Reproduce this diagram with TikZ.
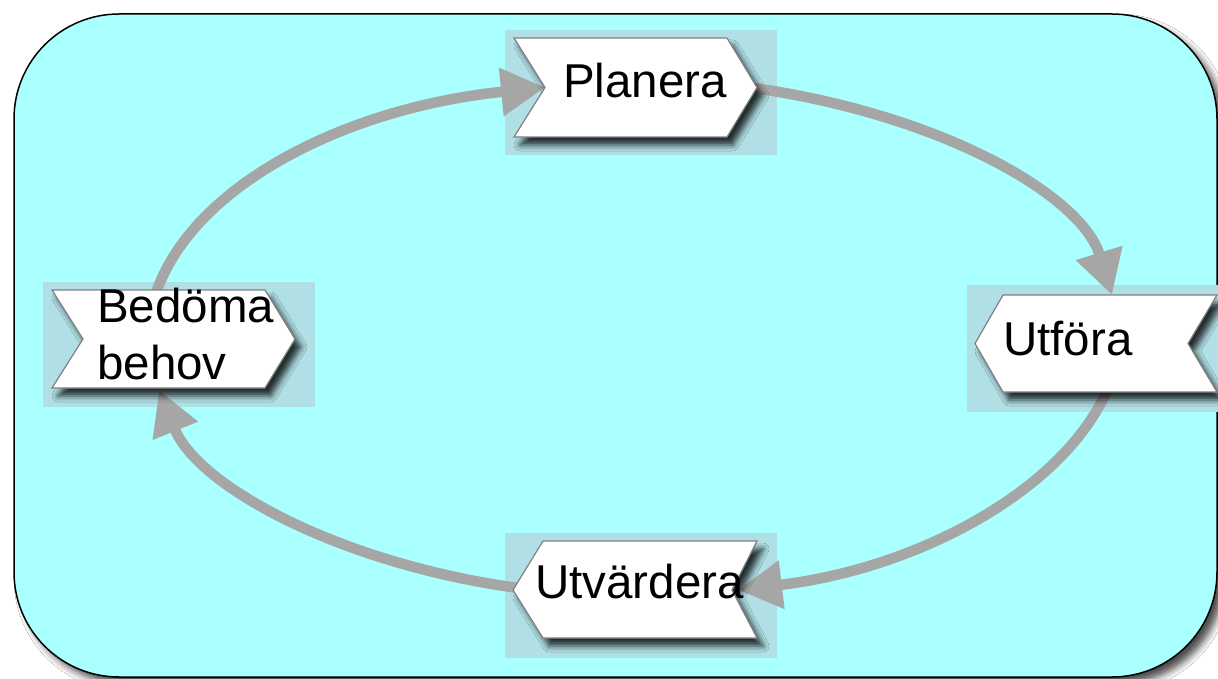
\documentclass[tikz,border=0pt]{standalone}
\usepackage{fontspec}
\setmainfont{Liberation Sans}
\usetikzlibrary{arrows.meta,shadows.blur}
\definecolor{panel}{RGB}{170,255,255}
\definecolor{plate}{RGB}{176,224,230}
\definecolor{flow}{RGB}{166,166,166}
\definecolor{rim}{RGB}{128,128,128}
\tikzset{
  panelbox/.style={fill=panel, draw=black, line width=1.5pt, rounded corners=105pt,
    blur shadow={shadow xshift=7pt, shadow yshift=-7pt, shadow blur radius=7pt, shadow opacity=70}},
  platebox/.style={fill=plate, draw=none},
  chev/.style={fill=white, draw=rim, line width=1.2pt, line join=miter,
    blur shadow={shadow xshift=6pt, shadow yshift=-8pt, shadow blur radius=6pt, shadow opacity=80}},
  flowline/.style={draw=flow, line width=10.5pt, -{Triangle[length=44pt,width=46pt]}},
  lbltext/.style={inner sep=0pt, font=\fontsize{47.5}{57}\selectfont, anchor=base west}
}
\begin{document}
\begin{tikzpicture}[x=1pt,y=-1pt]
\useasboundingbox (0,0) rectangle (1218,679);
\path[fill=white] (0,0) rectangle (1218,679);
% panel
\path[panelbox] (14,14) rectangle (1217,677);
% plates
\path[platebox] (505,30) rectangle (777,155);
\path[platebox] (43,282) rectangle (315,407);
\path[platebox] (967,285) rectangle (1218,412);
\path[platebox] (505,533) rectangle (777,658);
% connector end points
\coordinate (bedTop) at (155,296);
\coordinate (plaNotch) at (545,87.5);
\coordinate (plaTip) at (750,87.5);
\coordinate (utfTop) at (1112,295);
\coordinate (utfBot) at (1108,388);
\coordinate (utvIn) at (738,590);
\coordinate (utvTip) at (518,588);
\coordinate (bedBot) at (159,390);
% connectors
\draw[flowline] (bedTop) .. controls +(35,-110) and +(-199,20) .. (plaNotch);
\draw[flowline] (plaTip) .. controls +(188,26) and +(-31,-101) .. (utfTop);
\draw[flowline] (utfBot) .. controls +(-42,100) and +(183,-22) .. (utvIn);
\draw[flowline] (utvTip) .. controls +(-176,-24) and +(39,97) .. (bedBot);
% chevrons
\path[chev] (514,38) -- (727,38) -- (757,87.5) -- (727,137) -- (514,137) -- (545,87.5) -- cycle;
\path[chev] (52,290) -- (265,290) -- (295,339) -- (265,388) -- (52,388) -- (83,339) -- cycle;
\path[chev] (1003,295) -- (1217,295) -- (1188,343.5) -- (1217,392) -- (1003,392) -- (975,343.5) -- cycle;
\path[chev] (543,541) -- (757,541) -- (732,590) -- (757,638) -- (543,638) -- (513,590) -- cycle;
% labels
\node[lbltext] (tPla) at (563,98) {Planera};
\node[lbltext, anchor=south west, align=left] (tBed) at (97,380) {Bedöma\\behov};
\node[lbltext] (tUtf) at (1003,355) {Utföra};
\node[lbltext] (tUtv) at (535,598) {Utvärdera};
\end{tikzpicture}
\end{document}
